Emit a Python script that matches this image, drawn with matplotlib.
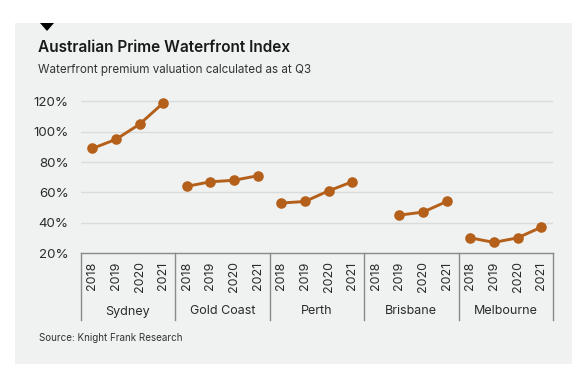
import matplotlib
matplotlib.use("Agg")
import matplotlib.pyplot as plt
import matplotlib.transforms as mtransforms
from matplotlib.patches import Rectangle, Polygon
import numpy as np

plt.rcParams['font.family'] = ['Inter', 'DejaVu Sans']

cities = ["Sydney", "Gold Coast", "Perth", "Brisbane", "Melbourne"]
years = ["2018", "2019", "2020", "2021"]
values = {
    "Sydney": [89, 95, 105, 119],
    "Gold Coast": [64, 67, 68, 71],
    "Perth": [53, 54, 61, 67],
    "Brisbane": [None, 45, 47, 54],
    "Melbourne": [30, 27, 30, 37],
}
yticks = [20, 40, 60, 80, 100, 120]

W, H = 588, 381
fig = plt.figure(figsize=(W / 100, H / 100), dpi=100)
fig.patch.set_facecolor("white")

def fx(px):
    return px / W

def fy(py):
    return 1 - py / H

# panel background
fig.patches.append(Rectangle((fx(15), fy(364)), fx(572) - fx(15), fy(23) - fy(364),
                             transform=fig.transFigure, facecolor="#eff2f1",
                             edgecolor="none", zorder=-10))
# small triangle marker
fig.patches.append(Polygon([[fx(40), fy(23)], [fx(54), fy(23)], [fx(47), fy(31)]],
                           closed=True, transform=fig.transFigure,
                           facecolor="black", edgecolor="none", zorder=-5))

fig.text(fx(38), fy(48), "Australian Prime Waterfront Index", fontsize=11.1,
         fontweight="semibold", color="#1a1a1a", va="center", ha="left")
fig.text(fx(38), fy(70), "Waterfront premium valuation calculated as at Q3", fontsize=8.4,
         color="#333333", va="center", ha="left")
fig.text(fx(39), fy(338), "Source: Knight Frank Research", fontsize=7.1,
         color="#333333", va="center", ha="left")

ymin, ymax = 20, 122
ax_left, ax_right = 80.5, 553
ax_bottom = 253
ax_top = ax_bottom - (ymax - ymin) * (151.5 / 100)
ax = fig.add_axes([fx(ax_left), fy(ax_bottom), fx(ax_right) - fx(ax_left), fy(ax_top) - fy(ax_bottom)])
ax.set_facecolor("none")

color = "#b5601a"
n = len(years)
for gi, city in enumerate(cities):
    vals = values[city]
    xs = [gi * n + i + 0.5 for i, v in enumerate(vals) if v is not None]
    vs = [v for v in vals if v is not None]
    ax.plot(xs, vs, color=color, lw=2.1, marker="o", markersize=6.6,
            solid_capstyle="round", zorder=3)

ax.set_xlim(0, n * len(cities))
ax.set_ylim(ymin, ymax)
ax.set_yticks(yticks)
ax.set_yticklabels([f"{t}%" for t in yticks], fontsize=9.6, color="#2b2b2b")
ax.tick_params(axis="y", length=0, pad=8.5)
for t in yticks[1:]:
    ax.axhline(t, color="#d8dcdb", lw=1, zorder=1)

xt = [gi * n + i + 0.5 for gi in range(len(cities)) for i in range(n)]
ax.set_xticks(xt)
ax.set_xticklabels(years * len(cities), rotation=90, fontsize=9, color="#2b2b2b")
ax.tick_params(axis="x", length=0, pad=6)

for s in ["top", "right", "left"]:
    ax.spines[s].set_visible(False)
ax.spines["bottom"].set_color("#8a8a8a")
ax.spines["bottom"].set_linewidth(1)

trans = mtransforms.blended_transform_factory(ax.transData, ax.transAxes)
axh_px = ax_bottom - ax_top
bottom_axes = -(320 - ax_bottom) / axh_px
label_axes = -(311.5 - ax_bottom) / axh_px
for gi in range(len(cities) + 1):
    ax.plot([gi * n, gi * n], [0, bottom_axes], transform=trans, color="#8a8a8a",
            lw=1, clip_on=False)
for gi, city in enumerate(cities):
    ax.text(gi * n + n / 2, label_axes, city, transform=trans, ha="center", va="center",
            fontsize=9, color="#2b2b2b")

fig.savefig("out.png", dpi=100, facecolor=fig.get_facecolor())
